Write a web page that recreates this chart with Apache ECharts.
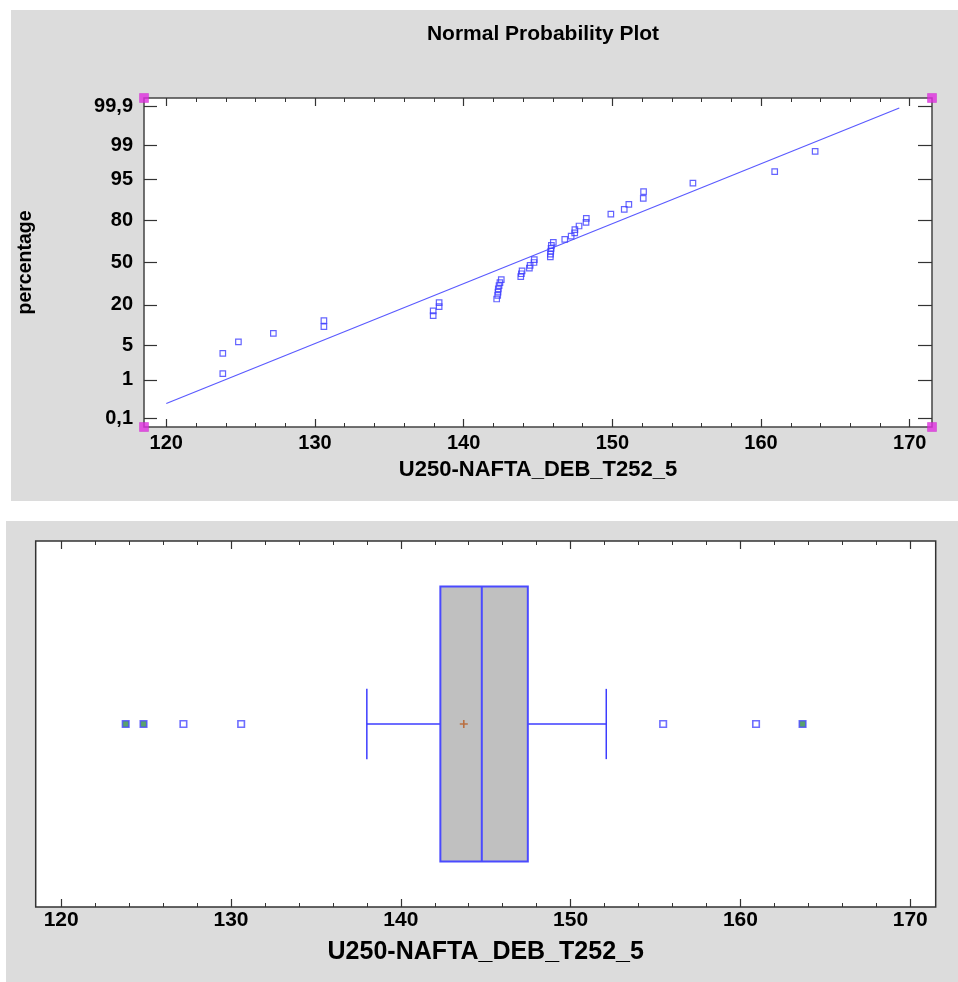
<!DOCTYPE html>
<html>
<head>
<meta charset="utf-8">
<script src="https://cdn.jsdelivr.net/npm/echarts@6/dist/echarts.min.js"></script>
<style>
html,body{margin:0;padding:0;background:#fff;}
#chart{width:958px;height:982px;}
</style>
</head>
<body>
<div id="chart"></div>
<script>
// ---------- data ----------
const varName = 'U250-NAFTA_DEB_T252_5';
const obsValues = [123.8,123.8,124.85,127.2,130.6,130.6,137.95,137.95,138.35,138.35,
  142.22,142.29,142.31,142.33,142.38,142.44,142.53,143.84,143.88,143.93,
  144.42,144.47,144.73,144.75,145.83,145.84,145.86,145.88,145.9,146.03,
  146.8,147.23,147.47,147.48,147.76,148.23,148.25,149.9,150.8,151.11,
  152.08,152.1,155.42,160.92,163.64];
const obsPercent = [1.38,3.59,5.80,8.01,10.22,12.43,14.64,16.85,19.06,21.27,
  23.48,25.69,27.90,30.11,32.32,34.53,36.74,38.95,41.16,43.37,
  45.58,47.79,50.00,52.21,54.42,56.63,58.84,61.05,63.26,65.47,
  67.68,69.89,72.10,74.31,76.52,78.73,80.94,83.15,85.36,87.57,
  89.78,91.99,94.20,96.41,98.62];
const fitX = [120, 169.3];
const fitPercent = [0.26, 99.89];
const pctTicks = [0.1, 1, 5, 20, 50, 80, 95, 99, 99.9];
const pctTickLabels = ['0,1', '1', '5', '20', '50', '80', '95', '99', '99,9'];
const xMajorTicks = [120, 130, 140, 150, 160, 170];
const xMinorTicks = [122,124,126,128,132,134,136,138,142,144,146,148,152,154,156,158,162,164,166,168];
// box plot: [lower whisker, Q1, median, Q3, upper whisker]
const boxStats = [138.0, 142.33, 144.77, 147.48, 152.1];
const boxMean = 143.71;
const nearOutliers = [127.2, 130.6, 155.45, 160.92];
const farOutliers = [123.8, 124.85, 163.66];

// ---------- axis transform (normal probability scale) ----------
function probit(p){
  const a=[-3.969683028665376e+01,2.209460984245205e+02,-2.759285104469687e+02,1.383577518672690e+02,-3.066479806614716e+01,2.506628277459239e+00];
  const b=[-5.447609879822406e+01,1.615858368580409e+02,-1.556989798598866e+02,6.680131188771972e+01,-1.328068155288572e+01];
  const c=[-7.784894002430293e-03,-3.223964580411365e-01,-2.400758277161838e+00,-2.549732539343734e+00,4.374664141464968e+00,2.938163982698783e+00];
  const d=[7.784695709041462e-03,3.224671290700398e-01,2.445134137142996e+00,3.754408661907416e+00];
  const pl=0.02425, ph=1-pl; let q,r;
  if(p<pl){q=Math.sqrt(-2*Math.log(p));return (((((c[0]*q+c[1])*q+c[2])*q+c[3])*q+c[4])*q+c[5])/((((d[0]*q+d[1])*q+d[2])*q+d[3])*q+1);}
  if(p>ph){q=Math.sqrt(-2*Math.log(1-p));return -(((((c[0]*q+c[1])*q+c[2])*q+c[3])*q+c[4])*q+c[5])/((((d[0]*q+d[1])*q+d[2])*q+d[3])*q+1);}
  q=p-0.5;r=q*q;return (((((a[0]*r+a[1])*r+a[2])*r+a[3])*r+a[4])*r+a[5])*q/(((((b[0]*r+b[1])*r+b[2])*r+b[3])*r+b[4])*r+1);
}
const z = pct => probit(pct/100);
const zTicks = pctTicks.map(z);

const X_MIN = 118.5, X_MAX = 171.5, Z_LIM = 3.26;
const FONT = '"Liberation Sans", Arial, sans-serif';
const AXIS_COLOR = '#333';
const BLUE = '#3c3cff';

function xAxisSet(grid, cfg){
  const base = {type:'value', gridIndex:grid, min:X_MIN, max:X_MAX, splitLine:{show:false}, axisLine:{show:false, onZero:false}};
  return [
    Object.assign({}, base, {position:'bottom',
      axisTick:{show:true, inside:true, length:8, customValues:xMajorTicks, lineStyle:{color:AXIS_COLOR,width:1.2}},
      axisLabel:{show:true, customValues:xMajorTicks, margin:cfg.labelMargin, color:'#000', fontFamily:FONT, fontWeight:'bold', fontSize:cfg.labelSize},
      name: varName, nameLocation:'middle', nameGap: cfg.nameGap,
      nameTextStyle:{color:'#000', fontFamily:FONT, fontWeight:'bold', fontSize:cfg.nameSize}}),
    Object.assign({}, base, {position:'bottom',
      axisTick:{show:true, inside:true, length:4, customValues:xMinorTicks, lineStyle:{color:AXIS_COLOR,width:1}},
      axisLabel:{show:false}}),
    Object.assign({}, base, {position:'top',
      axisTick:{show:true, inside:true, length:8, customValues:xMajorTicks, lineStyle:{color:AXIS_COLOR,width:1.2}},
      axisLabel:{show:false}}),
    Object.assign({}, base, {position:'top',
      axisTick:{show:true, inside:true, length:4, customValues:xMinorTicks, lineStyle:{color:AXIS_COLOR,width:1}},
      axisLabel:{show:false}})
  ];
}

const chart = echarts.init(document.getElementById('chart'), null, {renderer:'canvas'});

const option = {
  animation:false,
  backgroundColor:'#ffffff',
  graphic:[
    {type:'rect', z:-10, shape:{x:11, y:10, width:947, height:491}, style:{fill:'#dcdcdc'}, silent:true},
    {type:'rect', z:-10, shape:{x:6, y:521, width:952, height:461}, style:{fill:'#dcdcdc'}, silent:true}
  ],
  title:{
    text:'Normal Probability Plot', left:538, top:19, textAlign:'center',
    textStyle:{color:'#000', fontFamily:FONT, fontWeight:'bold', fontSize:21}
  },
  grid:[
    {left:144, top:98, width:788, height:329, show:true, backgroundColor:'#fff', borderColor:'#444', borderWidth:1.5, containLabel:false},
    {left:35.7, top:541, width:900, height:366, show:true, backgroundColor:'#fff', borderColor:'#333', borderWidth:1.5, containLabel:false}
  ],
  xAxis: [].concat(
    xAxisSet(0, {labelMargin:6, labelSize:20, nameGap:32, nameSize:22}),
    xAxisSet(1, {labelMargin:3, labelSize:21, nameGap:33, nameSize:25})),
  yAxis:[
    {type:'value', gridIndex:0, position:'left', min:-Z_LIM, max:Z_LIM, splitLine:{show:false}, axisLine:{show:false, onZero:false},
      axisTick:{show:true, inside:true, length:13, customValues:zTicks, lineStyle:{color:AXIS_COLOR,width:1.2}},
      axisLabel:{show:true, customValues:zTicks, margin:11, color:'#000', fontFamily:FONT, fontWeight:'bold', fontSize:20,
        formatter: v => { for(let i=0;i<zTicks.length;i++){ if(Math.abs(zTicks[i]-v)<1e-6) return pctTickLabels[i]; } return ''; }},
      name:'percentage', nameLocation:'middle', nameGap:108, nameRotate:90,
      nameTextStyle:{color:'#000', fontFamily:FONT, fontWeight:'bold', fontSize:19.5}},
    {type:'value', gridIndex:0, position:'right', min:-Z_LIM, max:Z_LIM, splitLine:{show:false}, axisLine:{show:false, onZero:false},
      axisTick:{show:true, inside:true, length:14, customValues:zTicks, lineStyle:{color:AXIS_COLOR,width:1.2}},
      axisLabel:{show:false}},
    {type:'category', gridIndex:1, data:['box'], axisLine:{show:false, onZero:false}, axisTick:{show:false}, axisLabel:{show:false}, splitLine:{show:false}}
  ],
  series:[
    {
      type:'line', xAxisIndex:0, yAxisIndex:0, symbol:'none', silent:true,
      data: fitX.map((x,i)=>[x, z(fitPercent[i])]),
      lineStyle:{color:'#5a5aff', width:1.2}, z:3
    },
    {
      type:'scatter', xAxisIndex:0, yAxisIndex:0, symbol:'rect', symbolSize:5.5,
      data: obsValues.map((x,i)=>[x, z(obsPercent[i])]),
      itemStyle:{color:'rgba(255,255,255,0)', borderColor:BLUE, borderWidth:1.2}, z:4
    },
    {
      type:'scatter', xAxisIndex:0, yAxisIndex:0, symbol:'rect', symbolSize:9, clip:false, silent:true,
      data:[[X_MIN,-Z_LIM],[X_MAX,-Z_LIM],[X_MIN,Z_LIM],[X_MAX,Z_LIM]],
      itemStyle:{color:'#e02ee0', borderColor:'#d020d0', borderWidth:0.5}, z:10
    },
    {
      type:'custom', xAxisIndex:4, yAxisIndex:2,
      data:[[...boxStats, 0]],
      encode:{x:[0,1,2,3,4], y:5},
      renderItem:(params, api)=>{
        const cat = api.value(5);
        const pLow = api.coord([api.value(0), cat]);
        const pQ1 = api.coord([api.value(1), cat]);
        const pMed = api.coord([api.value(2), cat]);
        const pQ3 = api.coord([api.value(3), cat]);
        const pHigh = api.coord([api.value(4), cat]);
        const band = api.size([0, 1])[1];
        const hb = band*0.376, hc = band*0.096, yc = pMed[1];
        const ls = {stroke:BLUE, lineWidth:1.5};
        return {type:'group', children:[
          {type:'line', shape:{x1:pLow[0], y1:yc, x2:pQ1[0], y2:yc}, style:ls},
          {type:'line', shape:{x1:pQ3[0], y1:yc, x2:pHigh[0], y2:yc}, style:ls},
          {type:'line', shape:{x1:pLow[0], y1:yc-hc, x2:pLow[0], y2:yc+hc}, style:ls},
          {type:'line', shape:{x1:pHigh[0], y1:yc-hc, x2:pHigh[0], y2:yc+hc}, style:ls},
          {type:'rect', shape:{x:pQ1[0], y:yc-hb, width:pQ3[0]-pQ1[0], height:2*hb}, style:{fill:'#c0c0c0', stroke:'#4a4aff', lineWidth:2}},
          {type:'line', shape:{x1:pMed[0], y1:yc-hb, x2:pMed[0], y2:yc+hb}, style:{stroke:'#4a4aff', lineWidth:2}}
        ]};
      }, z:3
    },
    {
      type:'scatter', xAxisIndex:4, yAxisIndex:2,
      symbol:'path://M4,0 L6,0 L6,4 L10,4 L10,6 L6,6 L6,10 L4,10 L4,6 L0,6 L0,4 L4,4 Z', symbolSize:8,
      data:[[boxMean, 0]], itemStyle:{color:'#b85a20'}, z:5
    },
    {
      type:'scatter', xAxisIndex:4, yAxisIndex:2, symbol:'rect', symbolSize:6.5,
      data: nearOutliers.map(x=>[x,0]),
      itemStyle:{color:'#ffffff', borderColor:'#4a4aff', borderWidth:1.6}, z:5
    },
    {
      type:'scatter', xAxisIndex:4, yAxisIndex:2, symbol:'rect', symbolSize:6.5,
      data: farOutliers.map(x=>[x,0]),
      itemStyle:{color:'#2f8a4a', borderColor:'#4a4aff', borderWidth:1.6}, z:5
    }
  ]
};
chart.setOption(option);
</script>
</body>
</html>
